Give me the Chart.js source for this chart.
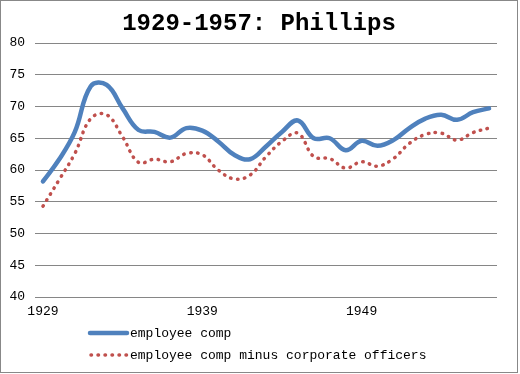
<!DOCTYPE html>
<html>
<head>
<meta charset="utf-8">
<script src="https://cdn.jsdelivr.net/npm/chart.js@4/dist/chart.umd.min.js"></script>
<style>
  html, body { margin: 0; padding: 0; background: #fff; }
  #wrap { width: 520px; height: 374px; }
</style>
</head>
<body>
<div id="wrap"><canvas id="chart" width="520" height="374"></canvas></div>
<script>
// years on the x axis
const years = [1929, 1930, 1931, 1932, 1933, 1934, 1935, 1936, 1937, 1938,
  1939, 1940, 1941, 1942, 1943, 1944, 1945, 1946, 1947, 1948,
  1949, 1950, 1951, 1952, 1953, 1954, 1955, 1956, 1957]

const employeeComp = [58.2, 61.6, 66.0, 73.2, 73.4, 69.7, 66.3, 66.0, 65.1, 66.6,
  66.2, 64.5, 62.4, 61.7, 63.7, 66.0, 67.8, 65.0, 65.0, 63.1,
  64.6, 63.8, 64.7, 66.6, 68.1, 68.7, 67.9, 69.1, 69.7]

const minusOfficers = [54.3, 58.4, 62.6, 68.1, 68.7, 65.2, 61.2, 61.7, 61.3, 62.6,
  62.4, 60.0, 58.6, 59.2, 62.1, 64.5, 65.8, 62.1, 61.8, 60.3,
  61.3, 60.6, 61.8, 64.2, 65.6, 65.8, 64.7, 65.9, 66.6]

const seriesNames = ['employee comp', 'employee comp minus corporate officers']
const chartTitle = '1929-1957: Phillips'

const mono = "'Liberation Mono', 'Courier New', monospace"

// frame, title and the legend drawn by hand
const decor = {
  id: 'decor',
  beforeDraw(chart) {
    const ctx = chart.ctx
    ctx.save()
    ctx.fillStyle = '#fff'
    ctx.fillRect(0, 0, chart.width, chart.height)
    ctx.strokeStyle = '#888'
    ctx.lineWidth = 1
    ctx.strokeRect(0.5, 0.5, 517, 372)
    ctx.restore()
  },
  afterDraw(chart) {
    const ctx = chart.ctx
    ctx.save()
    ctx.fillStyle = '#000'
    ctx.font = 'bold 24px ' + mono
    ctx.textAlign = 'center'
    ctx.textBaseline = 'alphabetic'
    ctx.fillText(chartTitle, 259, 30)

    ctx.font = '13px ' + mono
    ctx.textAlign = 'left'
    ctx.textBaseline = 'middle'
    chart.data.datasets.forEach((ds, i) => {
      const y = 333 + i * 22
      ctx.save()
      ctx.strokeStyle = ds.borderColor
      ctx.lineWidth = ds.borderWidth
      ctx.lineCap = ds.borderCapStyle || 'butt'
      ctx.setLineDash(ds.borderDash || [])
      ctx.beginPath()
      ctx.moveTo(i ? 91 : 90, y)
      ctx.lineTo(127, y)
      ctx.stroke()
      ctx.restore()
      ctx.fillStyle = '#000'
      ctx.fillText(ds.label, 130, y + 1)
    })
    ctx.restore()
  }
}

new Chart(document.getElementById('chart'), {
  type: 'line',
  data: {
    labels: years,
    datasets: [{
      label: seriesNames[0],
      data: employeeComp,
      borderColor: '#4F81BD',
      borderWidth: 4.5,
      borderCapStyle: 'round',
      borderJoinStyle: 'round',
      tension: 0.4,
      pointRadius: 0,
      fill: false
    }, {
      label: seriesNames[1],
      data: minusOfficers,
      borderColor: '#C0504D',
      borderWidth: 3.5,
      borderCapStyle: 'round',
      borderDash: [0.5, 6.5],
      tension: 0.4,
      pointRadius: 0,
      fill: false
    }]
  },
  options: {
    responsive: false,
    animation: false,
    layout: { padding: { top: 43, left: 0, right: 23, bottom: 0 } },
    plugins: {
      legend: { display: false },
      title: { display: false },
      tooltip: { enabled: false }
    },
    scales: {
      x: {
        offset: true,
        grid: { display: false, drawTicks: false },
        border: { display: false },
        afterFit(scale) { scale.height = 77 },
        ticks: {
          autoSkip: false,
          maxRotation: 0,
          padding: 7,
          color: '#000',
          font: { size: 13, family: mono },
          callback(val, idx) {
            return idx % 10 === 0 ? this.getLabelForValue(val) : ''
          }
        }
      },
      y: {
        min: 40,
        max: 80,
        grid: { color: '#868686', lineWidth: 1, drawTicks: false },
        border: { display: false },
        afterFit(scale) { scale.width = 35 },
        ticks: {
          stepSize: 5,
          padding: 10,
          color: '#000',
          font: { size: 13, family: mono }
        }
      }
    }
  },
  plugins: [decor]
})
</script>
</body>
</html>
